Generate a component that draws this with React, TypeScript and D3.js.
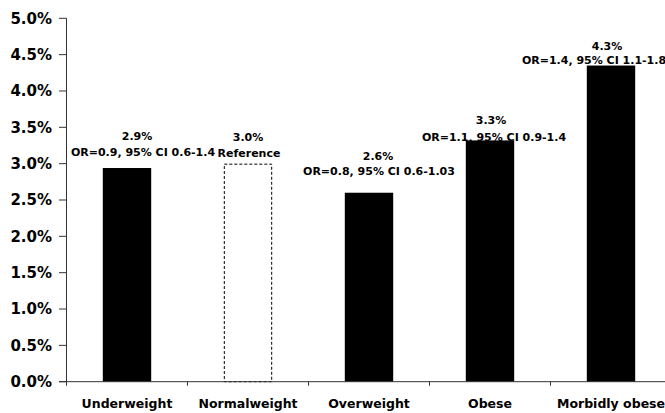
import React from "react";
import * as d3 from "d3";

// Mortality by BMI class, with odds ratios against normal weight
const categories = ["Underweight", "Normalweight", "Overweight", "Obese", "Morbidly obese"];
const rates = [2.94, 3.0, 2.6, 3.32, 4.35];
const oddsLabels = [
  "OR=0.9, 95% CI 0.6-1.4",
  "Reference",
  "OR=0.8, 95% CI 0.6-1.03",
  "OR=1.1, 95% CI 0.9-1.4",
  "OR=1.4, 95% CI 1.1-1.8",
];
const isReference = [false, true, false, false, false];
const yTicks = [0, 0.5, 1, 1.5, 2, 2.5, 3, 3.5, 4, 4.5, 5];

// annotation placement relative to each bar (px): [pct dx, pct dy, OR dx, OR dy]
const labelOffsets = [
  [10, -28, 16, -12],
  [0, -23, 1, -7],
  [9, -33, 10, -18],
  [1, -16, 4, 1],
  [-4, -16, -17, -2],
];

const W = 665;
const H = 413;
const FONT = "'DejaVu Sans', Arial, sans-serif";

export default function App() {
  const x = d3
    .scaleBand<string>()
    .domain(categories)
    .range([66.5, 671.5])
    .paddingInner(0.6)
    .paddingOuter(0.3);
  const y = d3.scaleLinear().domain([0, 5]).range([381.7, 18.3]);
  const step = x.step();
  const bw = x.bandwidth();
  const fmt = d3.format(".1f");
  const y0 = y(0);

  return (
    <svg
      width={W}
      height={H}
      style={{ position: "absolute", left: 0, top: 0, background: "#fff" }}
      fontFamily={FONT}
    >
      {/* bars */}
      {categories.map((c, i) => {
        const bx = x(c)!;
        const top = y(rates[i]);
        return isReference[i] ? (
          <rect
            key={c}
            x={bx + 0.5}
            y={top + 0.5}
            width={bw - 1}
            height={y0 - top - 0.5}
            fill="#fff"
            stroke="#000"
            strokeWidth={1}
            strokeDasharray="3,2"
          />
        ) : (
          <rect key={c} x={bx} y={top} width={bw} height={y0 - top} fill="#000" />
        );
      })}

      {/* y axis */}
      <line x1={66.5} x2={66.5} y1={y(5)} y2={y0} stroke="#333" strokeWidth={1} />
      {yTicks.map((t) => (
        <g key={t}>
          <line x1={59} x2={66.5} y1={y(t)} y2={y(t)} stroke="#333" strokeWidth={1} />
          <text
            x={52}
            y={y(t)}
            dy="0.36em"
            textAnchor="end"
            fontSize={15}
            fontWeight="bold"
            fill="#000"
          >
            {fmt(t) + "%"}
          </text>
        </g>
      ))}

      {/* x axis */}
      <line x1={59} x2={W} y1={y0} y2={y0} stroke="#333" strokeWidth={1} />
      {[0, 1, 2, 3, 4, 5].map((k) => {
        const tx = 66.5 + k * step;
        return <line key={k} x1={tx} x2={tx} y1={y0} y2={y0 + 4} stroke="#333" strokeWidth={1} />;
      })}
      {categories.map((c) => (
        <text
          key={c}
          x={x(c)! + bw / 2}
          y={407.5}
          textAnchor="middle"
          fontSize={12.5}
          fontWeight="bold"
          fill="#000"
        >
          {c}
        </text>
      ))}

      {/* value and odds-ratio annotations */}
      {categories.map((c, i) => {
        const cx = x(c)! + bw / 2;
        const top = y(rates[i]);
        const [pdx, pdy, odx, ody] = labelOffsets[i];
        return (
          <g key={c} fontWeight="bold" fontSize={11} textAnchor="middle" fill="#000">
            <text x={cx + pdx} y={top + pdy}>
              {fmt(rates[i]) + "%"}
            </text>
            <text x={cx + odx} y={top + ody}>
              {oddsLabels[i]}
            </text>
          </g>
        );
      })}
    </svg>
  );
}
